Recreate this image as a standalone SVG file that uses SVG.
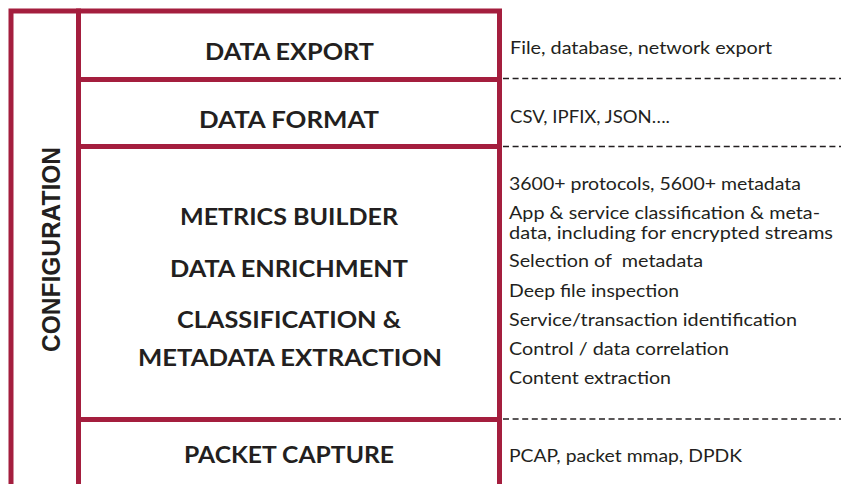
<svg xmlns="http://www.w3.org/2000/svg" width="851" height="484" viewBox="0 0 851 484">
<style>
.frame{stroke:#A41E3E;stroke-width:5;fill:none;stroke-linecap:square}
.dash{stroke:#231f20;stroke-width:1.7;stroke-dasharray:6 3.6;fill:none}
.lbl{font-family:Lato,"Open Sans","Liberation Sans",sans-serif;font-weight:bold;font-size:23px;fill:#231f20;text-anchor:middle}
.note{font-family:Lato,"Open Sans","Liberation Sans",sans-serif;font-size:18px;fill:#231f20}
.cfg{font-family:"Liberation Sans",Arial,sans-serif;font-weight:bold;font-size:26px;fill:#231f20;text-anchor:middle}
</style>
<rect width="851" height="484" fill="#ffffff"/>
<g id="connectors">
<line class="dash" x1="503" y1="78.5" x2="841" y2="78.5"/>
<line class="dash" x1="503" y1="146.5" x2="841" y2="146.5"/>
<line class="dash" x1="503" y1="419" x2="841" y2="419"/>
</g>
<g id="frame">
<path class="frame" d="M11,490 V11 H499.5 V490"/>
<line class="frame" x1="78.5" y1="11" x2="78.5" y2="490"/>
<line class="frame" x1="78.5" y1="79.5" x2="499.5" y2="79.5"/>
<line class="frame" x1="78.5" y1="146.5" x2="499.5" y2="146.5"/>
<line class="frame" x1="78.5" y1="419.5" x2="499.5" y2="419.5"/>
</g>
<g id="configuration">
<text class="cfg" transform="translate(60,249.5) rotate(-90)" x="0" y="0" textLength="205" lengthAdjust="spacingAndGlyphs">CONFIGURATION</text>
</g>
<g id="data-export">
<text class="lbl" x="289.5" y="59.5" textLength="169" lengthAdjust="spacingAndGlyphs">DATA EXPORT</text>
<text class="note" x="510" y="54" textLength="262" lengthAdjust="spacingAndGlyphs">File, database, network export</text>
</g>
<g id="data-format">
<text class="lbl" x="289" y="127.5" textLength="180" lengthAdjust="spacingAndGlyphs">DATA FORMAT</text>
<text class="note" x="510" y="122.5" textLength="160" lengthAdjust="spacingAndGlyphs">CSV, IPFIX, JSON….</text>
</g>
<g id="processing">
<text class="lbl" x="289" y="225" textLength="218" lengthAdjust="spacingAndGlyphs">METRICS BUILDER</text>
<text class="lbl" x="289" y="276.5" textLength="238" lengthAdjust="spacingAndGlyphs">DATA ENRICHMENT</text>
<text class="lbl" x="289" y="327.5" textLength="224" lengthAdjust="spacingAndGlyphs">CLASSIFICATION &amp;</text>
<text class="lbl" x="290" y="366" textLength="304" lengthAdjust="spacingAndGlyphs">METADATA EXTRACTION</text>
<text class="note" x="509" y="190" textLength="292" lengthAdjust="spacingAndGlyphs">3600+ protocols, 5600+ metadata</text>
<text class="note" x="509" y="219.3" textLength="311" lengthAdjust="spacingAndGlyphs">App &amp; service classification &amp; meta-</text>
<text class="note" x="509" y="238.5" textLength="324" lengthAdjust="spacingAndGlyphs">data, including for encrypted streams</text>
<text class="note" x="509" y="267.3" textLength="194" lengthAdjust="spacingAndGlyphs" xml:space="preserve">Selection of  metadata</text>
<text class="note" x="509" y="296.7" textLength="170" lengthAdjust="spacingAndGlyphs">Deep file inspection</text>
<text class="note" x="509" y="325.5" textLength="288" lengthAdjust="spacingAndGlyphs">Service/transaction identification</text>
<text class="note" x="509" y="355" textLength="220" lengthAdjust="spacingAndGlyphs">Control / data correlation</text>
<text class="note" x="509" y="383.5" textLength="162" lengthAdjust="spacingAndGlyphs">Content extraction</text>
</g>
<g id="packet-capture">
<text class="lbl" x="289" y="462.5" textLength="210" lengthAdjust="spacingAndGlyphs">PACKET CAPTURE</text>
<text class="note" x="509" y="462" textLength="233" lengthAdjust="spacingAndGlyphs">PCAP, packet mmap, DPDK</text>
</g>
</svg>
